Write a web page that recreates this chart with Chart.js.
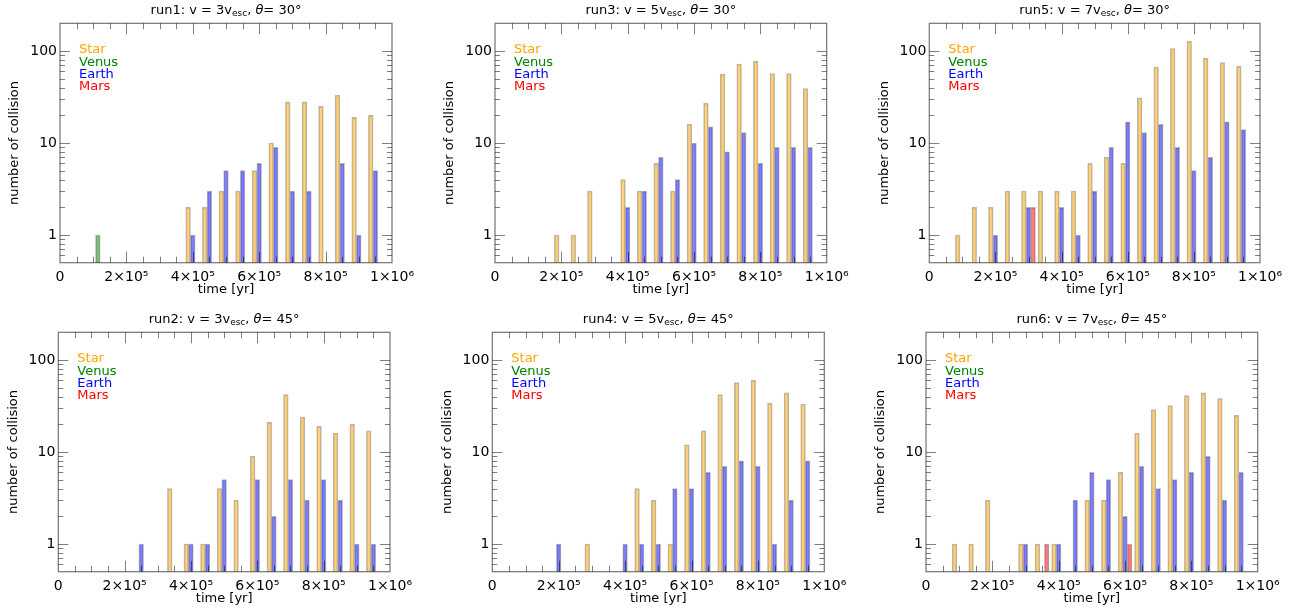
<!DOCTYPE html>
<html>
<head>
<meta charset="utf-8">
<title>collisions per run</title>
<script src="https://cdn.jsdelivr.net/npm/chart.js@4.4.1/dist/chart.umd.min.js"></script>
<style>
  html, body { margin: 0; padding: 0; background: #fff; }
  #wrap { position: relative; width: 1295px; height: 612px; overflow: hidden; }
  #wrap canvas { position: absolute; }
</style>
</head>
<body>
<div id="wrap"></div>
<script>
// time bins [yr], 5e4 wide
const binTimes = [0, 50000, 100000, 150000, 200000, 250000, 300000, 350000, 400000, 450000,
                  500000, 550000, 600000, 650000, 700000, 750000, 800000, 850000, 900000, 950000];

const xTickValues = [0, 200000, 400000, 600000, 800000, 1000000];
const xTickLabels = ['0', '2×10⁵', '4×10⁵', '6×10⁵', '8×10⁵', '1×10⁶'];
const yTickValues = [1, 10, 100];

const bodyNames = ['Star', 'Venus', 'Earth', 'Mars'];

// collisions per bin
const run1Star  = [0,0,0,0,0,0,0,0,2,2,3,3,5,10,28,28,25,33,19,20];
const run1Venus = [0,0,1,0,0,0,0,0,0,0,0,0,0,0,0,0,0,0,0,0];
const run1Earth = [0,0,0,0,0,0,0,0,1,3,5,5,6,9,3,3,0,6,1,5];
const run1Mars  = [0,0,0,0,0,0,0,0,0,0,0,0,0,0,0,0,0,0,0,0];

const run3Star  = [0,0,0,0,1,1,3,0,4,3,6,3,16,27,56,72,77,57,57,39];
const run3Venus = [0,0,0,0,0,0,0,0,0,0,0,0,0,0,0,0,0,0,0,0];
const run3Earth = [0,0,0,0,0,0,0,0,2,3,7,4,10,15,8,13,6,9,9,9];
const run3Mars  = [0,0,0,0,0,0,0,0,0,0,0,0,0,0,0,0,0,0,0,0];

const run5Star  = [0,0,1,2,2,3,3,3,3,3,6,7,6,31,67,106,127,83,75,68];
const run5Venus = [0,0,0,0,0,0,0,0,0,0,0,0,0,0,0,0,0,0,0,0];
const run5Earth = [0,0,0,0,1,0,2,0,2,1,3,9,17,13,16,9,5,7,17,14];
const run5Mars  = [0,0,0,0,0,0,2,0,0,0,0,0,0,0,0,0,0,0,0,0];

const run2Star  = [0,0,0,0,0,0,0,4,1,1,4,3,9,21,42,24,19,16,20,17];
const run2Venus = [0,0,0,0,0,0,0,0,0,0,0,0,0,0,0,0,0,0,0,0];
const run2Earth = [0,0,0,0,0,1,0,0,1,1,5,0,5,2,5,3,5,3,1,1];
const run2Mars  = [0,0,0,0,0,0,0,0,0,0,0,0,0,0,0,0,0,0,0,0];

const run4Star  = [0,0,0,0,0,0,1,0,0,4,3,1,12,17,42,57,60,34,44,33];
const run4Venus = [0,0,0,0,0,0,0,0,0,0,0,0,0,0,0,0,0,0,0,0];
const run4Earth = [0,0,0,0,1,0,0,0,1,1,1,4,4,6,7,8,7,1,3,8];
const run4Mars  = [0,0,0,0,0,0,0,0,0,0,0,0,0,0,0,0,0,0,0,0];

const run6Star  = [0,0,1,1,3,0,1,1,1,0,3,3,6,16,29,32,41,44,38,25];
const run6Venus = [0,0,0,0,0,0,0,0,0,0,0,0,0,0,0,0,0,0,0,0];
const run6Earth = [0,0,0,0,0,0,1,0,1,3,6,5,2,7,4,5,6,9,3,6];
const run6Mars  = [0,0,0,0,0,0,0,1,0,0,0,0,1,0,0,0,0,0,0,0];

const runNames  = ['run1', 'run3', 'run5', 'run2', 'run4', 'run6'];
const runSpeeds = [3, 5, 7, 3, 5, 7];
const runAngles = [30, 30, 30, 45, 45, 45];
const runCounts = [
  [run1Star, run1Venus, run1Earth, run1Mars],
  [run3Star, run3Venus, run3Earth, run3Mars],
  [run5Star, run5Venus, run5Earth, run5Mars],
  [run2Star, run2Venus, run2Earth, run2Mars],
  [run4Star, run4Venus, run4Earth, run4Mars],
  [run6Star, run6Venus, run6Earth, run6Mars],
];

// bar look per body: fill, legend colour, shift inside the bin
const bodyFill   = ['rgba(255,165,0,0.5)', 'rgba(0,128,0,0.5)', 'rgba(0,0,255,0.5)', 'rgba(255,0,0,0.5)'];
const bodyText   = ['#ffa500', '#008000', '#0000ff', '#ff0000'];
const bodyShift  = [-14000, 14000, 0, 14000];

// panel placement: canvas box + plot edges inside it
const panelBox = [
  { left: 0,   top: 0,   width: 430, padL: 2,   padR: 38 },
  { left: 430, top: 0,   width: 430, padL: 7,   padR: 33.3 },
  { left: 860, top: 0,   width: 435, padL: 11.3, padR: 35 },
  { left: 0,   top: 309, width: 430, padL: 0.3, padR: 40 },
  { left: 430, top: 309, width: 430, padL: 4.3, padR: 35.7 },
  { left: 860, top: 309, width: 435, padL: 8,   padR: 37.3 },
];
const canvasH = 303;
const FONT = '"DejaVu Sans", sans-serif';

Chart.defaults.font.family = FONT;
Chart.defaults.color = '#000';

// frame + inward ticks, drawn over the bars
const framePlugin = {
  id: 'frame',
  afterDatasetsDraw(chart) {
    const { ctx, chartArea: a, scales: { x, y } } = chart;
    ctx.save();
    ctx.strokeStyle = 'rgba(0,0,0,0.5)';
    ctx.lineWidth = 1;
    ctx.beginPath();
    for (let k = 1; k < 20; k++) {
      const px = Math.round(x.getPixelForValue(k * 50000)) + 0.5;
      const len = k % 4 === 0 ? 11 : 6;
      ctx.moveTo(px, a.bottom); ctx.lineTo(px, a.bottom - len);
      ctx.moveTo(px, a.top); ctx.lineTo(px, a.top + len);
    }
    [0.1, 1, 10, 100].forEach(dec => {
      for (let m = 1; m < 10; m++) {
        const v = m * dec;
        if (v <= 0.5 || v >= 200) continue;
        const py = Math.round(y.getPixelForValue(v)) + 0.5;
        const len = m === 1 ? 10 : 5;
        ctx.moveTo(a.left, py); ctx.lineTo(a.left + len, py);
        ctx.moveTo(a.right, py); ctx.lineTo(a.right - len, py);
      }
    });
    ctx.stroke();
    ctx.strokeStyle = 'rgba(0,0,0,0.55)';
    ctx.lineWidth = 1.2;
    ctx.strokeRect(a.left, a.top, a.right - a.left, a.bottom - a.top);
    ctx.restore();
  }
};

// coloured body names in the upper left corner
const namesPlugin = {
  id: 'names',
  afterDraw(chart) {
    const { ctx, chartArea: a } = chart;
    ctx.save();
    ctx.font = '13px ' + FONT;
    ctx.textBaseline = 'middle';
    ctx.textAlign = 'left';
    chart.data.datasets.forEach((ds, i) => {
      ctx.fillStyle = ds.textColor;
      ctx.fillText(ds.label, a.left + 19, a.top + 26.7 + i * 12.3);
    });
    ctx.restore();
  }
};

// title with subscript and italic theta
const titlePlugin = {
  id: 'runTitle',
  afterDraw(chart, args, opts) {
    const { ctx, chartArea: a } = chart;
    const big = '13px ' + FONT;
    const parts = [
      { t: opts.run + ': v = ' + opts.v + 'v', f: big, dy: 0 },
      { t: 'esc', f: '9px ' + FONT, dy: 3 },
      { t: ', ', f: big, dy: 0 },
      { t: 'θ', f: 'italic 13px ' + FONT, dy: 0 },
      { t: '= ' + opts.theta + '°', f: big, dy: 0 },
    ];
    ctx.save();
    ctx.fillStyle = '#000';
    ctx.textBaseline = 'middle';
    ctx.textAlign = 'left';
    let total = 0;
    parts.forEach(p => { ctx.font = p.f; p.w = ctx.measureText(p.t).width; total += p.w; });
    let cx = (a.left + a.right) / 2 - total / 2;
    const cy = a.top - 12.5;
    parts.forEach(p => {
      ctx.font = p.f;
      ctx.fillText(p.t, cx, cy + p.dy);
      cx += p.w;
    });
    ctx.restore();
  }
};

const wrap = document.getElementById('wrap');

runNames.forEach((run, r) => {
  const box = panelBox[r];
  const canvas = document.createElement('canvas');
  canvas.width = box.width;
  canvas.height = canvasH;
  canvas.style.left = box.left + 'px';
  canvas.style.top = box.top + 'px';
  wrap.appendChild(canvas);

  const datasets = bodyNames.map((name, b) => ({
    label: name,
    textColor: bodyText[b],
    data: binTimes
      .map((t, i) => ({ x: t + bodyShift[b], y: runCounts[r][b][i] }))
      .filter(p => p.y > 0),
    backgroundColor: bodyFill[b],
    borderColor: 'rgba(110,110,110,0.5)',
    borderWidth: 1,
    grouped: false,
    categoryPercentage: 1,
    barPercentage: 1,
  }));

  new Chart(canvas, {
    type: 'bar',
    data: { datasets },
    plugins: [framePlugin, namesPlugin, titlePlugin],
    options: {
      responsive: false,
      animation: false,
      events: [],
      layout: { padding: { left: box.padL, right: box.padR, top: 23.3, bottom: 0 } },
      plugins: {
        legend: { display: false },
        tooltip: { enabled: false },
        runTitle: { run: run, v: runSpeeds[r], theta: runAngles[r] },
      },
      scales: {
        x: {
          type: 'linear',
          min: 0,
          max: 1000000,
          offset: false,
          grid: { display: false, drawTicks: false },
          border: { display: false },
          afterBuildTicks: s => { s.ticks = xTickValues.map(v => ({ value: v })); },
          afterFit: s => { s.height = canvasH - 262.7; },
          ticks: {
            padding: 6,
            maxRotation: 0,
            autoSkip: false,
            font: { size: 14 },
            callback: (v, i) => xTickLabels[i],
          },
          title: { display: true, text: 'time [yr]', font: { size: 13 }, padding: { top: 0, bottom: 5.2 } },
        },
        y: {
          type: 'logarithmic',
          min: 0.5,
          max: 200,
          grid: { display: false, drawTicks: false },
          border: { display: false },
          afterBuildTicks: s => { s.ticks = yTickValues.map(v => ({ value: v })); },
          afterFit: s => { s.width = 58; },
          ticks: {
            padding: 3,
            autoSkip: false,
            font: { size: 14 },
            callback: v => String(v),
          },
          title: { display: true, text: 'number of collision', font: { size: 13 }, padding: { top: 5.2, bottom: 0 } },
        },
      },
    },
  });
});
</script>
</body>
</html>
